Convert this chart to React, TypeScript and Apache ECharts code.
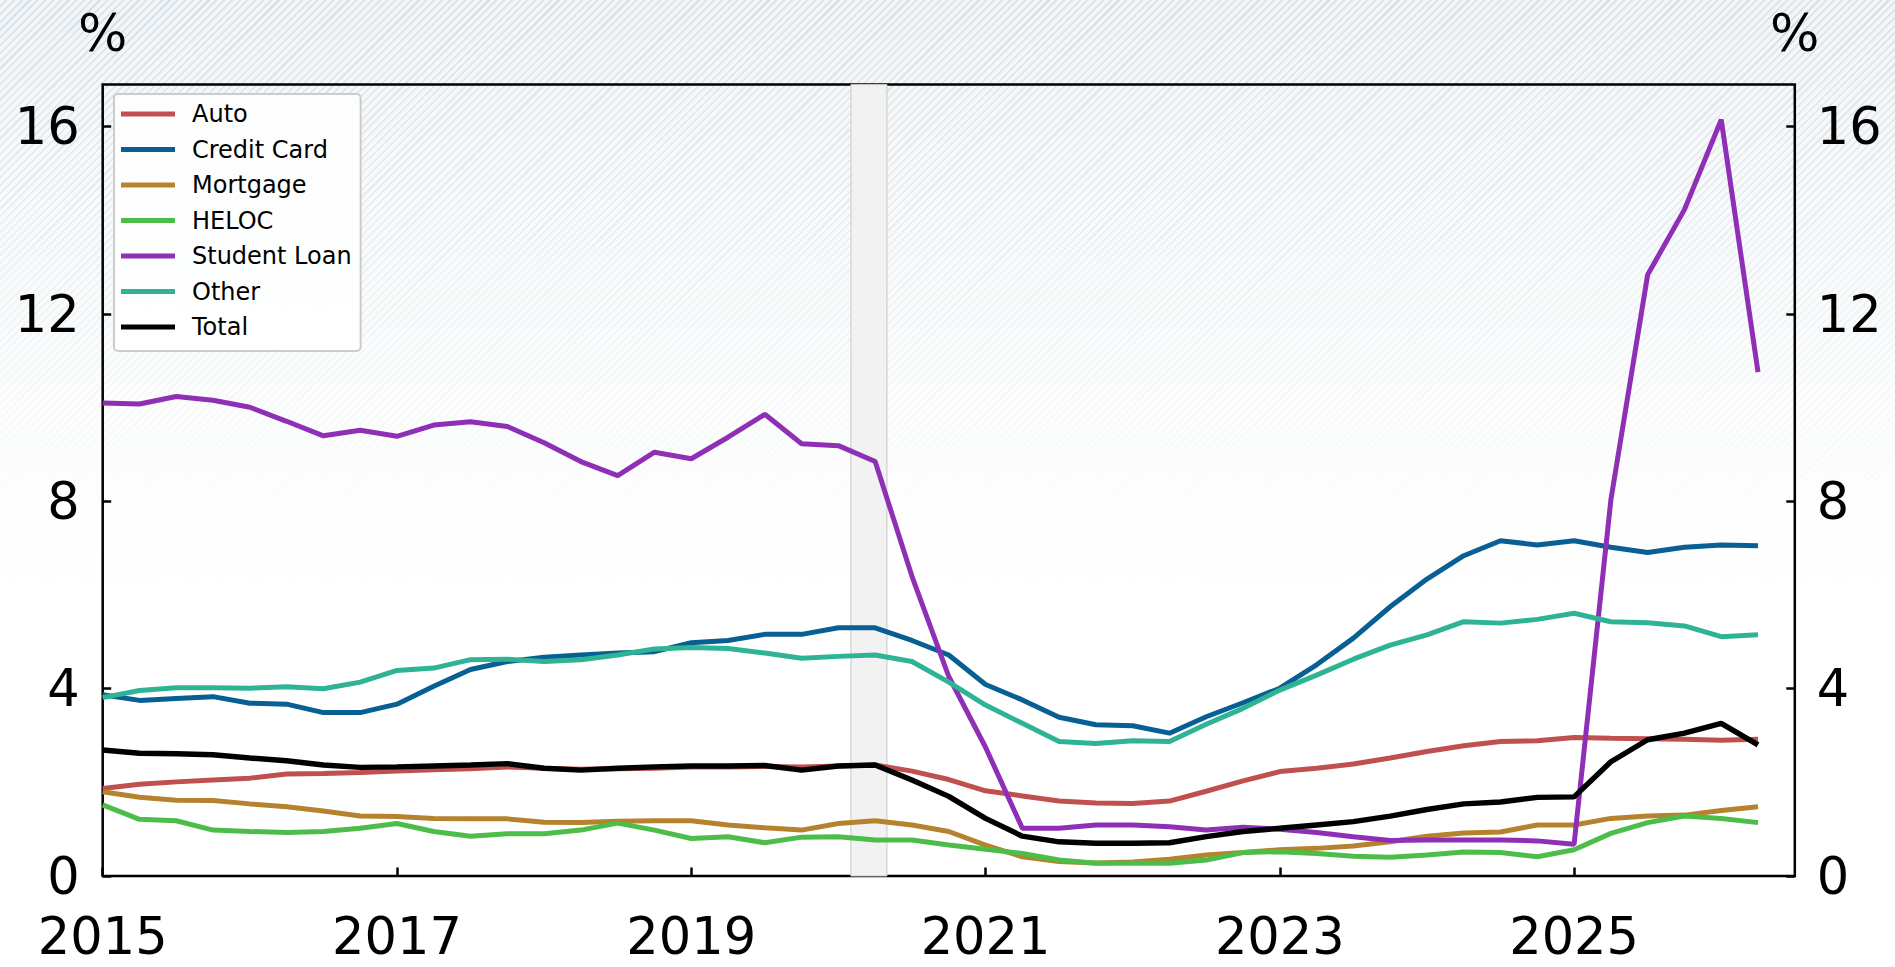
import React, { useEffect, useRef } from "react";
import * as echarts from "echarts";

const quarters = [
  "2015Q1", "2015Q2", "2015Q3", "2015Q4",
  "2016Q1", "2016Q2", "2016Q3", "2016Q4",
  "2017Q1", "2017Q2", "2017Q3", "2017Q4",
  "2018Q1", "2018Q2", "2018Q3", "2018Q4",
  "2019Q1", "2019Q2", "2019Q3", "2019Q4",
  "2020Q1", "2020Q2", "2020Q3", "2020Q4",
  "2021Q1", "2021Q2", "2021Q3", "2021Q4",
  "2022Q1", "2022Q2", "2022Q3", "2022Q4",
  "2023Q1", "2023Q2", "2023Q3", "2023Q4",
  "2024Q1", "2024Q2", "2024Q3", "2024Q4",
  "2025Q1", "2025Q2", "2025Q3", "2025Q4",
  "2026Q1", "2026Q2",
];

const auto = [
  1.87, 1.96, 2.01, 2.05, 2.09, 2.18, 2.19, 2.21, 2.24, 2.27, 2.29, 2.33,
  2.30, 2.28, 2.29, 2.30, 2.33, 2.33, 2.34, 2.33, 2.35, 2.37, 2.24, 2.06,
  1.82, 1.71, 1.60, 1.56, 1.55, 1.60, 1.81, 2.03, 2.23, 2.30, 2.39, 2.52,
  2.66, 2.78, 2.87, 2.89, 2.96, 2.94, 2.93, 2.92, 2.90, 2.92,
];
const creditCard = [
  3.87, 3.75, 3.79, 3.83, 3.69, 3.67, 3.49, 3.49, 3.67, 4.05, 4.41, 4.58,
  4.67, 4.72, 4.76, 4.79, 4.98, 5.03, 5.16, 5.16, 5.30, 5.30, 5.03, 4.72,
  4.09, 3.76, 3.39, 3.23, 3.21, 3.05, 3.40, 3.70, 4.01, 4.51, 5.08, 5.75,
  6.34, 6.84, 7.16, 7.07, 7.16, 7.02, 6.91, 7.02, 7.07, 7.05,
];
const mortgage = [
  1.80, 1.68, 1.62, 1.61, 1.54, 1.48, 1.39, 1.28, 1.27, 1.23, 1.22, 1.22,
  1.15, 1.14, 1.17, 1.18, 1.18, 1.09, 1.03, 0.98, 1.12, 1.18, 1.09, 0.95,
  0.66, 0.41, 0.31, 0.28, 0.30, 0.36, 0.45, 0.50, 0.56, 0.59, 0.64, 0.73,
  0.85, 0.92, 0.94, 1.09, 1.09, 1.23, 1.28, 1.30, 1.40, 1.48,
];
const heloc = [
  1.52, 1.21, 1.18, 0.98, 0.95, 0.93, 0.95, 1.02, 1.12, 0.95, 0.85, 0.90,
  0.90, 0.98, 1.13, 0.98, 0.80, 0.84, 0.71, 0.83, 0.84, 0.77, 0.77, 0.66,
  0.57, 0.48, 0.34, 0.27, 0.27, 0.27, 0.34, 0.50, 0.52, 0.48, 0.42, 0.40,
  0.45, 0.51, 0.50, 0.41, 0.56, 0.91, 1.14, 1.28, 1.23, 1.14,
];
const studentLoan = [
  10.10, 10.08, 10.24, 10.16, 10.01, 9.71, 9.40, 9.52, 9.39, 9.63, 9.70, 9.60,
  9.25, 8.85, 8.55, 9.05, 8.91, 9.37, 9.86, 9.23, 9.19, 8.85, 6.40, 4.26,
  2.75, 1.02, 1.02, 1.09, 1.09, 1.05, 0.98, 1.04, 1.00, 0.93, 0.84, 0.76,
  0.77, 0.77, 0.77, 0.75, 0.68, 8.03, 12.84, 14.23, 16.15, 10.76,
];
const other = [
  3.81, 3.96, 4.02, 4.02, 4.01, 4.04, 4.00, 4.14, 4.39, 4.44, 4.62, 4.63,
  4.58, 4.62, 4.72, 4.85, 4.88, 4.86, 4.76, 4.65, 4.69, 4.72, 4.58, 4.14,
  3.65, 3.26, 2.87, 2.83, 2.89, 2.87, 3.24, 3.58, 3.97, 4.29, 4.63, 4.93,
  5.15, 5.43, 5.40, 5.48, 5.61, 5.43, 5.41, 5.34, 5.11, 5.15,
];
const total = [
  2.69, 2.62, 2.61, 2.59, 2.52, 2.46, 2.37, 2.32, 2.33, 2.35, 2.37, 2.40,
  2.30, 2.26, 2.30, 2.33, 2.35, 2.35, 2.36, 2.26, 2.35, 2.37, 2.05, 1.70,
  1.23, 0.85, 0.73, 0.70, 0.70, 0.71, 0.84, 0.95, 1.02, 1.09, 1.16, 1.28,
  1.42, 1.54, 1.58, 1.68, 1.69, 2.44, 2.91, 3.05, 3.26, 2.80,
];

const seriesNames = ["Auto", "Credit Card", "Mortgage", "HELOC", "Student Loan", "Other", "Total"];
const seriesValues = [auto, creditCard, mortgage, heloc, studentLoan, other, total];
const seriesColors = ["#c0504d", "#085f93", "#b5832e", "#4dbd4a", "#8e2fb6", "#2eb395", "#000000"];

const xTicks = [2015, 2017, 2019, 2021, 2023, 2025];
const yTicks = [0, 4, 8, 12, 16];
const recession = [2020.085, 2020.33];

const FONT = "DejaVu Sans";

function quarterToYear(q: string): number {
  const y = parseInt(q.slice(0, 4), 10);
  const n = parseInt(q.slice(5), 10);
  return y + (n - 1) * 0.25;
}

export default function App() {
  const ref = useRef<HTMLDivElement>(null);

  useEffect(() => {
    if (!ref.current) return;
    const chart = echarts.init(ref.current, undefined, { renderer: "svg" });

    const yAxisBase = (position: "left" | "right", margin: number) => ({
      type: "value",
      min: 0,
      max: 16.9,
      position,
      name: "%",
      nameLocation: "end",
      nameGap: 26,
      nameTextStyle: {
        fontSize: 52,
        color: "#000",
        fontFamily: FONT,
        align: "center",
        verticalAlign: "bottom",
      },
      axisLine: { show: false },
      axisTick: {
        show: true,
        inside: true,
        length: 8.5,
        customValues: yTicks,
        lineStyle: { color: "#000", width: 2.5 },
      },
      axisLabel: {
        customValues: yTicks,
        fontSize: 51,
        lineHeight: 50,
        color: "#000",
        fontFamily: FONT,
        margin,
      },
      splitLine: { show: false },
    });

    const lineSeries = seriesNames.map((name, k) => ({
      name,
      type: "line",
      xAxisIndex: 0,
      yAxisIndex: 0,
      showSymbol: false,
      symbol: "none",
      z: 3,
      itemStyle: { color: seriesColors[k] },
      lineStyle: { color: seriesColors[k], width: k === 6 ? 5.4 : 5 },
      data: quarters.map((q, i) => [quarterToYear(q), seriesValues[k][i]]),
    }));

    chart.setOption({
      animation: false,
      backgroundColor: "transparent",
      textStyle: { fontFamily: FONT },
      grid: {
        left: 102.7,
        right: 100.2,
        top: 84.6,
        bottom: 91,
        show: true,
        borderColor: "#000",
        borderWidth: 2.5,
        backgroundColor: "transparent",
      },
      legend: {
        data: seriesNames,
        orient: "vertical",
        left: 114,
        top: 94,
        padding: [8, 9, 12, 7],
        itemGap: 11.5,
        itemWidth: 54,
        itemHeight: 5,
        icon: "rect",
        backgroundColor: "rgba(255,255,255,0.85)",
        borderColor: "#cccccc",
        borderWidth: 2,
        borderRadius: 4,
        textStyle: {
          fontSize: 24,
          color: "#000",
          fontFamily: FONT,
          lineHeight: 24,
          padding: [0, 0, 0, 12],
        },
      },
      xAxis: {
        type: "value",
        min: 2015,
        max: 2026.5,
        axisLine: { show: false },
        axisTick: {
          show: true,
          inside: true,
          length: 8.5,
          customValues: xTicks,
          lineStyle: { color: "#000", width: 2.5 },
        },
        axisLabel: {
          customValues: xTicks,
          fontSize: 51,
          lineHeight: 50,
          color: "#000",
          fontFamily: FONT,
          margin: 35,
          formatter: (v: number) => String(v),
        },
        splitLine: { show: false },
      },
      yAxis: [yAxisBase("left", 23), yAxisBase("right", 22)],
      series: [
        {
          name: "recession",
          type: "line",
          data: [],
          z: 1,
          silent: true,
          markArea: {
            silent: true,
            itemStyle: { color: "#f2f2f2", borderColor: "#c8c8c8", borderWidth: 1 },
            data: [[{ xAxis: recession[0] }, { xAxis: recession[1] }]],
          },
        },
        ...lineSeries,
        {
          name: "right-axis",
          type: "line",
          yAxisIndex: 1,
          data: [],
          silent: true,
        },
      ],
    });

    return () => chart.dispose();
  }, []);

  return (
    <div
      ref={ref}
      style={{
        position: "fixed",
        left: 0,
        top: 0,
        width: 1895,
        height: 967,
        backgroundColor: "#ffffff",
        backgroundImage:
          "linear-gradient(to bottom, rgba(255,255,255,0) 0px, rgba(255,255,255,0.25) 120px, rgba(255,255,255,0.75) 380px, #ffffff 600px), " +
          "repeating-linear-gradient(135deg, #f2f5f7 0px, #f2f5f7 4px, #d6dfe6 4px, #d6dfe6 5.5px)",
      }}
    />
  );
}
